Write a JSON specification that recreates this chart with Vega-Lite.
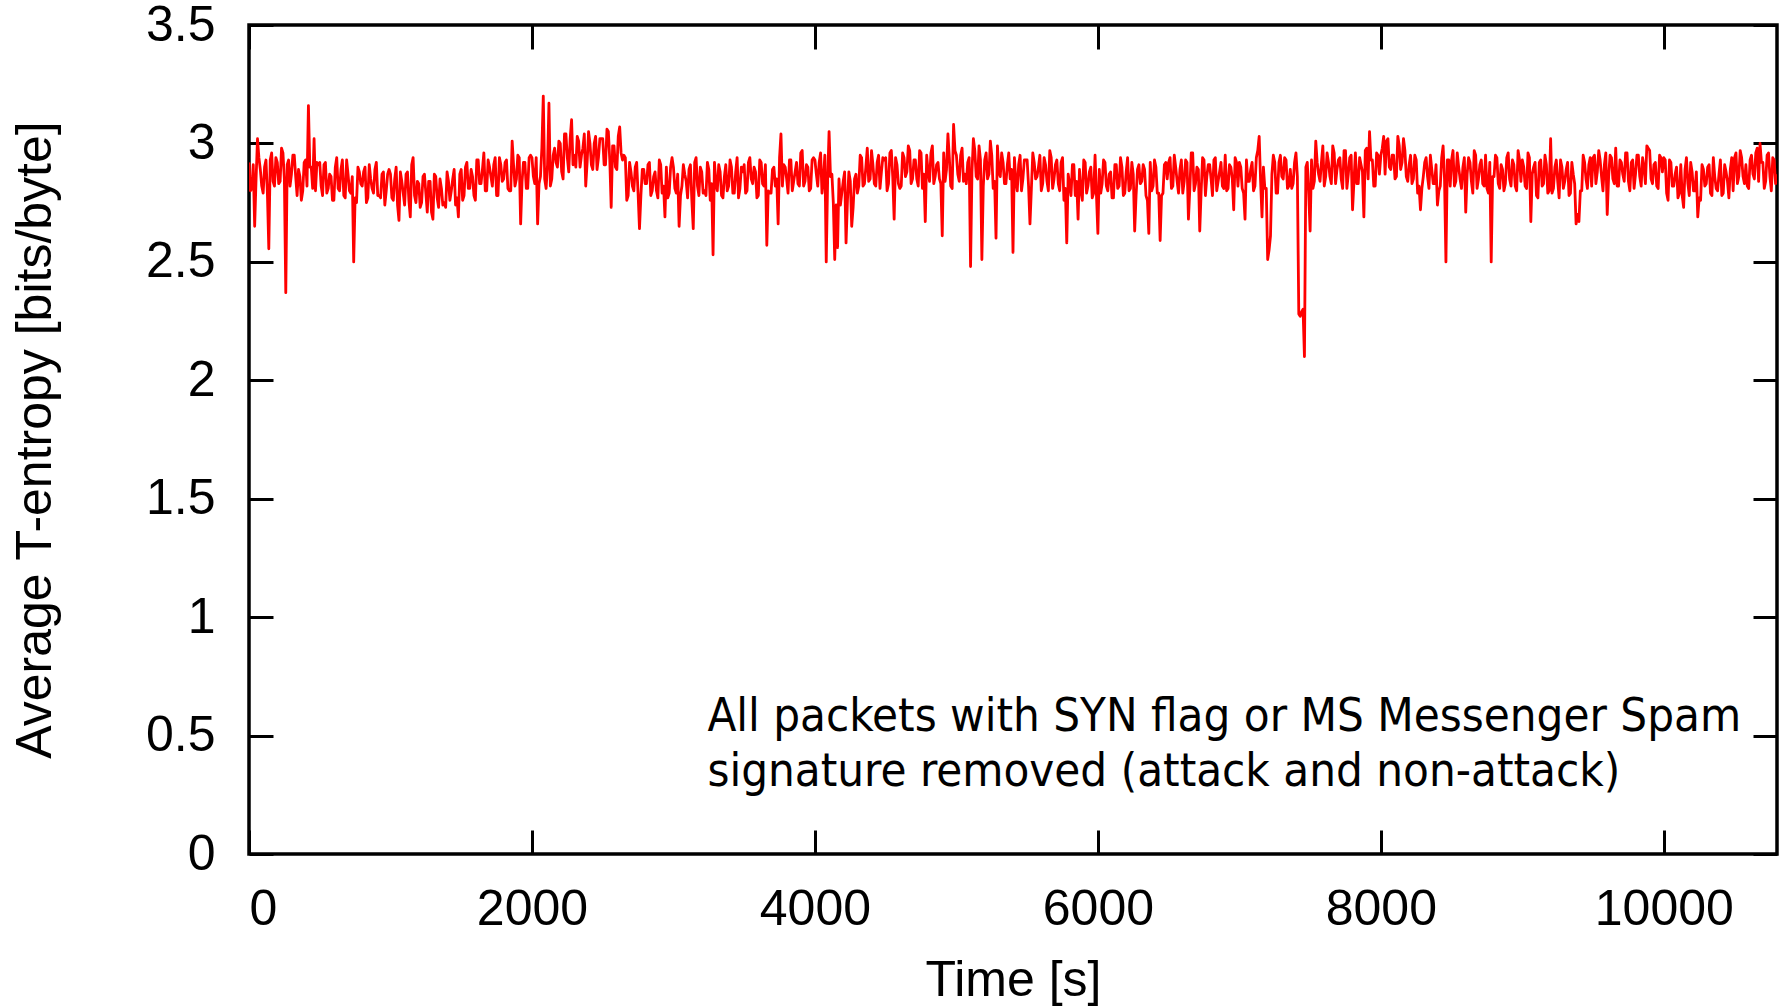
{
"$schema": "https://vega.github.io/schema/vega-lite/v6.json",
"width": 1528,
"height": 829,
"autosize": {"type": "none"},
"padding": {"left": 249, "top": 25, "right": 11, "bottom": 154},
"background": "white",
"config": {
  "view": {"stroke": "black", "strokeWidth": 3.5},
  "axis": {"grid": false, "domain": false, "tickColor": "black", "tickWidth": 3, "tickSize": -24, "labelFont": "Liberation Sans", "labelFontSize": 50, "labelColor": "black", "titleFont": "Liberation Sans", "titleFontSize": 50, "titleFontWeight": "normal", "titleColor": "black"}
},
"data": {"values": [
{"t":0,"v":2.92},{"t":10,"v":2.80},{"t":20,"v":2.81},{"t":30,"v":2.91},{"t":40,"v":2.65},{"t":50,"v":2.85},{"t":60,"v":3.02},{"t":70,"v":2.94},{"t":80,"v":2.89},{"t":90,"v":2.82},{"t":100,"v":2.79},{"t":110,"v":2.90},{"t":120,"v":2.93},{"t":130,"v":2.79},{"t":140,"v":2.555},{"t":150,"v":2.93},{"t":160,"v":2.96},{"t":170,"v":2.84},{"t":180,"v":2.82},{"t":190,"v":2.94},
{"t":200,"v":2.92},{"t":210,"v":2.83},{"t":220,"v":2.84},{"t":230,"v":2.98},{"t":240,"v":2.96},{"t":250,"v":2.85},{"t":260,"v":2.37},{"t":270,"v":2.91},{"t":280,"v":2.93},{"t":290,"v":2.82},{"t":300,"v":2.87},{"t":310,"v":2.95},{"t":320,"v":2.95},{"t":330,"v":2.86},{"t":340,"v":2.78},{"t":350,"v":2.89},{"t":360,"v":2.86},{"t":370,"v":2.76},{"t":380,"v":2.80},{"t":390,"v":2.92},
{"t":400,"v":2.93},{"t":410,"v":2.82},{"t":420,"v":3.16},{"t":430,"v":2.90},{"t":440,"v":2.90},{"t":450,"v":2.81},{"t":460,"v":3.02},{"t":470,"v":2.80},{"t":480,"v":2.92},{"t":490,"v":2.91},{"t":500,"v":2.92},{"t":510,"v":2.82},{"t":520,"v":2.78},{"t":530,"v":2.91},{"t":540,"v":2.92},{"t":550,"v":2.79},{"t":560,"v":2.81},{"t":570,"v":2.87},{"t":580,"v":2.86},{"t":590,"v":2.76},
{"t":600,"v":2.76},{"t":610,"v":2.90},{"t":620,"v":2.94},{"t":630,"v":2.81},{"t":640,"v":2.80},{"t":650,"v":2.89},{"t":660,"v":2.93},{"t":670,"v":2.78},{"t":680,"v":2.77},{"t":690,"v":2.93},{"t":700,"v":2.87},{"t":710,"v":2.80},{"t":720,"v":2.79},{"t":730,"v":2.86},{"t":740,"v":2.50},{"t":750,"v":2.77},{"t":760,"v":2.75},{"t":770,"v":2.90},{"t":780,"v":2.88},{"t":790,"v":2.83},
{"t":800,"v":2.82},{"t":810,"v":2.88},{"t":820,"v":2.90},{"t":830,"v":2.75},{"t":840,"v":2.77},{"t":850,"v":2.91},{"t":860,"v":2.85},{"t":870,"v":2.81},{"t":880,"v":2.79},{"t":890,"v":2.89},{"t":900,"v":2.92},{"t":910,"v":2.78},{"t":920,"v":2.78},{"t":930,"v":2.77},{"t":940,"v":2.87},{"t":950,"v":2.88},{"t":960,"v":2.74},{"t":970,"v":2.80},{"t":980,"v":2.87},{"t":990,"v":2.89},
{"t":1000,"v":2.87},{"t":1010,"v":2.77},{"t":1020,"v":2.76},{"t":1030,"v":2.85},{"t":1040,"v":2.90},{"t":1050,"v":2.74},{"t":1060,"v":2.675},{"t":1070,"v":2.88},{"t":1080,"v":2.84},{"t":1090,"v":2.79},{"t":1100,"v":2.74},{"t":1110,"v":2.87},{"t":1120,"v":2.88},{"t":1130,"v":2.76},{"t":1140,"v":2.69},{"t":1150,"v":2.91},{"t":1160,"v":2.94},{"t":1170,"v":2.78},{"t":1180,"v":2.75},{"t":1190,"v":2.84},
{"t":1200,"v":2.83},{"t":1210,"v":2.73},{"t":1220,"v":2.75},{"t":1230,"v":2.86},{"t":1240,"v":2.87},{"t":1250,"v":2.79},{"t":1260,"v":2.71},{"t":1270,"v":2.84},{"t":1280,"v":2.84},{"t":1290,"v":2.71},{"t":1300,"v":2.68},{"t":1310,"v":2.87},{"t":1320,"v":2.86},{"t":1330,"v":2.77},{"t":1340,"v":2.73},{"t":1350,"v":2.85},{"t":1360,"v":2.81},{"t":1370,"v":2.74},{"t":1380,"v":2.75},{"t":1390,"v":2.73},
{"t":1400,"v":2.88},{"t":1410,"v":2.84},{"t":1420,"v":2.76},{"t":1430,"v":2.80},{"t":1440,"v":2.85},{"t":1450,"v":2.89},{"t":1460,"v":2.74},{"t":1470,"v":2.77},{"t":1480,"v":2.69},{"t":1490,"v":2.87},{"t":1500,"v":2.89},{"t":1510,"v":2.76},{"t":1520,"v":2.78},{"t":1530,"v":2.90},{"t":1540,"v":2.92},{"t":1550,"v":2.81},{"t":1560,"v":2.81},{"t":1570,"v":2.89},{"t":1580,"v":2.86},{"t":1590,"v":2.78},
{"t":1600,"v":2.76},{"t":1610,"v":2.93},{"t":1620,"v":2.93},{"t":1630,"v":2.83},{"t":1640,"v":2.83},{"t":1650,"v":2.89},{"t":1660,"v":2.96},{"t":1670,"v":2.80},{"t":1680,"v":2.80},{"t":1690,"v":2.93},{"t":1700,"v":2.90},{"t":1710,"v":2.86},{"t":1720,"v":2.82},{"t":1730,"v":2.91},{"t":1740,"v":2.94},{"t":1750,"v":2.78},{"t":1760,"v":2.78},{"t":1770,"v":2.94},{"t":1780,"v":2.91},{"t":1790,"v":2.84},
{"t":1800,"v":2.85},{"t":1810,"v":2.92},{"t":1820,"v":2.93},{"t":1830,"v":2.81},{"t":1840,"v":2.80},{"t":1850,"v":2.80},{"t":1860,"v":3.01},{"t":1870,"v":2.91},{"t":1880,"v":2.82},{"t":1890,"v":2.85},{"t":1900,"v":2.95},{"t":1910,"v":2.94},{"t":1920,"v":2.66},{"t":1930,"v":2.84},{"t":1940,"v":2.92},{"t":1950,"v":2.92},{"t":1960,"v":2.81},{"t":1970,"v":2.81},{"t":1980,"v":2.94},{"t":1990,"v":2.95},
{"t":2000,"v":2.94},{"t":2010,"v":2.86},{"t":2020,"v":2.83},{"t":2030,"v":2.94},{"t":2040,"v":2.66},{"t":2050,"v":2.83},{"t":2060,"v":2.86},{"t":2070,"v":2.98},{"t":2080,"v":3.20},{"t":2090,"v":2.85},{"t":2100,"v":2.81},{"t":2110,"v":2.91},{"t":2120,"v":3.17},{"t":2130,"v":2.82},{"t":2140,"v":2.85},{"t":2150,"v":2.95},{"t":2160,"v":2.98},{"t":2170,"v":2.92},{"t":2180,"v":2.90},{"t":2190,"v":3.01},
{"t":2200,"v":3.00},{"t":2210,"v":2.88},{"t":2220,"v":2.85},{"t":2230,"v":3.04},{"t":2240,"v":3.04},{"t":2250,"v":2.94},{"t":2260,"v":2.88},{"t":2270,"v":3.02},{"t":2280,"v":3.10},{"t":2290,"v":2.91},{"t":2300,"v":2.95},{"t":2310,"v":2.90},{"t":2320,"v":3.03},{"t":2330,"v":3.01},{"t":2340,"v":2.90},{"t":2350,"v":2.95},{"t":2360,"v":2.98},{"t":2370,"v":3.04},{"t":2380,"v":2.82},{"t":2390,"v":2.92},
{"t":2400,"v":3.05},{"t":2410,"v":3.00},{"t":2420,"v":2.91},{"t":2430,"v":2.89},{"t":2440,"v":3.00},{"t":2450,"v":3.03},{"t":2460,"v":2.89},{"t":2470,"v":2.94},{"t":2480,"v":3.02},{"t":2490,"v":3.02},{"t":2500,"v":3.02},{"t":2510,"v":2.91},{"t":2520,"v":2.91},{"t":2530,"v":3.06},{"t":2540,"v":3.05},{"t":2550,"v":2.93},{"t":2560,"v":2.73},{"t":2570,"v":2.99},{"t":2580,"v":2.99},{"t":2590,"v":2.90},
{"t":2600,"v":2.89},{"t":2610,"v":3.03},{"t":2620,"v":3.07},{"t":2630,"v":2.96},{"t":2640,"v":2.93},{"t":2650,"v":2.95},{"t":2660,"v":2.94},{"t":2670,"v":2.76},{"t":2680,"v":2.78},{"t":2690,"v":2.92},{"t":2700,"v":2.88},{"t":2710,"v":2.82},{"t":2720,"v":2.80},{"t":2730,"v":2.90},{"t":2740,"v":2.92},{"t":2750,"v":2.79},{"t":2760,"v":2.64},{"t":2770,"v":2.78},{"t":2780,"v":2.89},{"t":2790,"v":2.89},
{"t":2800,"v":2.83},{"t":2810,"v":2.83},{"t":2820,"v":2.91},{"t":2830,"v":2.92},{"t":2840,"v":2.78},{"t":2850,"v":2.80},{"t":2860,"v":2.86},{"t":2870,"v":2.88},{"t":2880,"v":2.80},{"t":2890,"v":2.77},{"t":2900,"v":2.93},{"t":2910,"v":2.91},{"t":2920,"v":2.79},{"t":2930,"v":2.82},{"t":2940,"v":2.69},{"t":2950,"v":2.90},{"t":2960,"v":2.77},{"t":2970,"v":2.79},{"t":2980,"v":2.90},{"t":2990,"v":2.94},
{"t":3000,"v":2.90},{"t":3010,"v":2.81},{"t":3020,"v":2.79},{"t":3030,"v":2.87},{"t":3040,"v":2.65},{"t":3050,"v":2.78},{"t":3060,"v":2.82},{"t":3070,"v":2.91},{"t":3080,"v":2.87},{"t":3090,"v":2.84},{"t":3100,"v":2.77},{"t":3110,"v":2.89},{"t":3120,"v":2.91},{"t":3130,"v":2.76},{"t":3140,"v":2.64},{"t":3150,"v":2.92},{"t":3160,"v":2.94},{"t":3170,"v":2.82},{"t":3180,"v":2.78},{"t":3190,"v":2.90},
{"t":3200,"v":2.88},{"t":3210,"v":2.79},{"t":3220,"v":2.80},{"t":3230,"v":2.78},{"t":3240,"v":2.92},{"t":3250,"v":2.89},{"t":3260,"v":2.76},{"t":3270,"v":2.83},{"t":3280,"v":2.53},{"t":3290,"v":2.92},{"t":3300,"v":2.83},{"t":3310,"v":2.80},{"t":3320,"v":2.91},{"t":3330,"v":2.88},{"t":3340,"v":2.78},{"t":3350,"v":2.77},{"t":3360,"v":2.86},{"t":3370,"v":2.91},{"t":3380,"v":2.80},{"t":3390,"v":2.82},
{"t":3400,"v":2.93},{"t":3410,"v":2.90},{"t":3420,"v":2.79},{"t":3430,"v":2.79},{"t":3440,"v":2.88},{"t":3450,"v":2.94},{"t":3460,"v":2.77},{"t":3470,"v":2.81},{"t":3480,"v":2.90},{"t":3490,"v":2.88},{"t":3500,"v":2.91},{"t":3510,"v":2.79},{"t":3520,"v":2.80},{"t":3530,"v":2.92},{"t":3540,"v":2.94},{"t":3550,"v":2.85},{"t":3560,"v":2.83},{"t":3570,"v":2.90},{"t":3580,"v":2.88},{"t":3590,"v":2.77},
{"t":3600,"v":2.78},{"t":3610,"v":2.93},{"t":3620,"v":2.92},{"t":3630,"v":2.83},{"t":3640,"v":2.82},{"t":3650,"v":2.91},{"t":3660,"v":2.57},{"t":3670,"v":2.80},{"t":3680,"v":2.79},{"t":3690,"v":2.79},{"t":3700,"v":2.89},{"t":3710,"v":2.90},{"t":3720,"v":2.82},{"t":3730,"v":2.85},{"t":3740,"v":2.66},{"t":3750,"v":2.94},{"t":3760,"v":3.04},{"t":3770,"v":2.82},{"t":3780,"v":2.91},{"t":3790,"v":2.90},
{"t":3800,"v":2.85},{"t":3810,"v":2.79},{"t":3820,"v":2.93},{"t":3830,"v":2.93},{"t":3840,"v":2.80},{"t":3850,"v":2.84},{"t":3860,"v":2.88},{"t":3870,"v":2.92},{"t":3880,"v":2.83},{"t":3890,"v":2.82},{"t":3900,"v":2.96},{"t":3910,"v":2.97},{"t":3920,"v":2.82},{"t":3930,"v":2.84},{"t":3940,"v":2.91},{"t":3950,"v":2.90},{"t":3960,"v":2.80},{"t":3970,"v":2.81},{"t":3980,"v":2.93},{"t":3990,"v":2.94},
{"t":4000,"v":2.93},{"t":4010,"v":2.87},{"t":4020,"v":2.82},{"t":4030,"v":2.92},{"t":4040,"v":2.96},{"t":4050,"v":2.79},{"t":4060,"v":2.85},{"t":4070,"v":2.95},{"t":4080,"v":2.50},{"t":4090,"v":2.85},{"t":4100,"v":3.05},{"t":4110,"v":2.86},{"t":4120,"v":2.87},{"t":4130,"v":2.75},{"t":4140,"v":2.51},{"t":4150,"v":2.74},{"t":4160,"v":2.56},{"t":4170,"v":2.85},{"t":4180,"v":2.74},{"t":4190,"v":2.79},
{"t":4200,"v":2.84},{"t":4210,"v":2.88},{"t":4220,"v":2.58},{"t":4230,"v":2.76},{"t":4240,"v":2.88},{"t":4250,"v":2.84},{"t":4260,"v":2.65},{"t":4270,"v":2.73},{"t":4280,"v":2.85},{"t":4290,"v":2.87},{"t":4300,"v":2.79},{"t":4310,"v":2.82},{"t":4320,"v":2.95},{"t":4330,"v":2.94},{"t":4340,"v":2.82},{"t":4350,"v":2.83},{"t":4360,"v":2.90},{"t":4370,"v":2.98},{"t":4380,"v":2.84},{"t":4390,"v":2.85},
{"t":4400,"v":2.97},{"t":4410,"v":2.91},{"t":4420,"v":2.83},{"t":4430,"v":2.82},{"t":4440,"v":2.92},{"t":4450,"v":2.95},{"t":4460,"v":2.81},{"t":4470,"v":2.88},{"t":4480,"v":2.94},{"t":4490,"v":2.93},{"t":4500,"v":2.94},{"t":4510,"v":2.80},{"t":4520,"v":2.83},{"t":4530,"v":2.96},{"t":4540,"v":2.97},{"t":4550,"v":2.86},{"t":4560,"v":2.68},{"t":4570,"v":2.94},{"t":4580,"v":2.91},{"t":4590,"v":2.83},
{"t":4600,"v":2.81},{"t":4610,"v":2.82},{"t":4620,"v":2.96},{"t":4630,"v":2.94},{"t":4640,"v":2.86},{"t":4650,"v":2.88},{"t":4660,"v":2.99},{"t":4670,"v":2.97},{"t":4680,"v":2.83},{"t":4690,"v":2.85},{"t":4700,"v":2.93},{"t":4710,"v":2.93},{"t":4720,"v":2.85},{"t":4730,"v":2.82},{"t":4740,"v":2.97},{"t":4750,"v":2.96},{"t":4760,"v":2.81},{"t":4770,"v":2.87},{"t":4780,"v":2.67},{"t":4790,"v":2.95},
{"t":4800,"v":2.88},{"t":4810,"v":2.84},{"t":4820,"v":2.96},{"t":4830,"v":2.99},{"t":4840,"v":2.83},{"t":4850,"v":2.86},{"t":4860,"v":2.91},{"t":4870,"v":2.92},{"t":4880,"v":2.85},{"t":4890,"v":2.83},{"t":4900,"v":2.61},{"t":4910,"v":2.96},{"t":4920,"v":2.84},{"t":4930,"v":2.89},{"t":4940,"v":3.04},{"t":4950,"v":2.94},{"t":4960,"v":2.82},{"t":4970,"v":2.81},{"t":4980,"v":3.08},{"t":4990,"v":2.97},
{"t":5000,"v":2.95},{"t":5010,"v":2.87},{"t":5020,"v":2.84},{"t":5030,"v":2.95},{"t":5040,"v":2.98},{"t":5050,"v":2.84},{"t":5060,"v":2.87},{"t":5070,"v":2.83},{"t":5080,"v":2.92},{"t":5090,"v":2.94},{"t":5100,"v":2.48},{"t":5110,"v":2.88},{"t":5120,"v":3.02},{"t":5130,"v":2.97},{"t":5140,"v":2.86},{"t":5150,"v":2.85},{"t":5160,"v":2.99},{"t":5170,"v":2.93},{"t":5180,"v":2.51},{"t":5190,"v":2.82},
{"t":5200,"v":2.93},{"t":5210,"v":2.96},{"t":5220,"v":2.85},{"t":5230,"v":2.87},{"t":5240,"v":3.01},{"t":5250,"v":2.95},{"t":5260,"v":2.81},{"t":5270,"v":2.84},{"t":5280,"v":2.60},{"t":5290,"v":2.99},{"t":5300,"v":2.88},{"t":5310,"v":2.86},{"t":5320,"v":2.96},{"t":5330,"v":2.92},{"t":5340,"v":2.83},{"t":5350,"v":2.83},{"t":5360,"v":2.91},{"t":5370,"v":2.96},{"t":5380,"v":2.85},{"t":5390,"v":2.89},
{"t":5400,"v":2.54},{"t":5410,"v":2.94},{"t":5420,"v":2.84},{"t":5430,"v":2.80},{"t":5440,"v":2.91},{"t":5450,"v":2.95},{"t":5460,"v":2.80},{"t":5470,"v":2.85},{"t":5480,"v":2.93},{"t":5490,"v":2.93},{"t":5500,"v":2.93},{"t":5510,"v":2.82},{"t":5520,"v":2.66},{"t":5530,"v":2.81},{"t":5540,"v":2.96},{"t":5550,"v":2.92},{"t":5560,"v":2.85},{"t":5570,"v":2.86},{"t":5580,"v":2.90},{"t":5590,"v":2.95},
{"t":5600,"v":2.80},{"t":5610,"v":2.83},{"t":5620,"v":2.94},{"t":5630,"v":2.91},{"t":5640,"v":2.84},{"t":5650,"v":2.80},{"t":5660,"v":2.97},{"t":5670,"v":2.94},{"t":5680,"v":2.81},{"t":5690,"v":2.85},{"t":5700,"v":2.91},{"t":5710,"v":2.93},{"t":5720,"v":2.83},{"t":5730,"v":2.80},{"t":5740,"v":2.92},{"t":5750,"v":2.94},{"t":5760,"v":2.76},{"t":5770,"v":2.81},{"t":5780,"v":2.58},{"t":5790,"v":2.87},
{"t":5800,"v":2.83},{"t":5810,"v":2.78},{"t":5820,"v":2.91},{"t":5830,"v":2.91},{"t":5840,"v":2.78},{"t":5850,"v":2.84},{"t":5860,"v":2.68},{"t":5870,"v":2.89},{"t":5880,"v":2.80},{"t":5890,"v":2.76},{"t":5900,"v":2.93},{"t":5910,"v":2.92},{"t":5920,"v":2.79},{"t":5930,"v":2.82},{"t":5940,"v":2.88},{"t":5950,"v":2.90},{"t":5960,"v":2.77},{"t":5970,"v":2.79},{"t":5980,"v":2.95},{"t":5990,"v":2.78},
{"t":6000,"v":2.62},{"t":6010,"v":2.89},{"t":6020,"v":2.79},{"t":6030,"v":2.83},{"t":6040,"v":2.93},{"t":6050,"v":2.92},{"t":6060,"v":2.82},{"t":6070,"v":2.80},{"t":6080,"v":2.87},{"t":6090,"v":2.88},{"t":6100,"v":2.77},{"t":6110,"v":2.77},{"t":6120,"v":2.91},{"t":6130,"v":2.91},{"t":6140,"v":2.81},{"t":6150,"v":2.82},{"t":6160,"v":2.94},{"t":6170,"v":2.90},{"t":6180,"v":2.78},{"t":6190,"v":2.79},
{"t":6200,"v":2.88},{"t":6210,"v":2.94},{"t":6220,"v":2.80},{"t":6230,"v":2.81},{"t":6240,"v":2.92},{"t":6250,"v":2.87},{"t":6260,"v":2.63},{"t":6270,"v":2.78},{"t":6280,"v":2.89},{"t":6290,"v":2.91},{"t":6300,"v":2.83},{"t":6310,"v":2.84},{"t":6320,"v":2.91},{"t":6330,"v":2.89},{"t":6340,"v":2.78},{"t":6350,"v":2.76},{"t":6360,"v":2.62},{"t":6370,"v":2.92},{"t":6380,"v":2.80},{"t":6390,"v":2.82},
{"t":6400,"v":2.93},{"t":6410,"v":2.90},{"t":6420,"v":2.79},{"t":6430,"v":2.79},{"t":6440,"v":2.59},{"t":6450,"v":2.78},{"t":6460,"v":2.79},{"t":6470,"v":2.91},{"t":6480,"v":2.92},{"t":6490,"v":2.85},{"t":6500,"v":2.92},{"t":6510,"v":2.94},{"t":6520,"v":2.81},{"t":6530,"v":2.82},{"t":6540,"v":2.95},{"t":6550,"v":2.90},{"t":6560,"v":2.84},{"t":6570,"v":2.79},{"t":6580,"v":2.89},{"t":6590,"v":2.93},
{"t":6600,"v":2.79},{"t":6610,"v":2.84},{"t":6620,"v":2.93},{"t":6630,"v":2.92},{"t":6640,"v":2.68},{"t":6650,"v":2.81},{"t":6660,"v":2.96},{"t":6670,"v":2.96},{"t":6680,"v":2.80},{"t":6690,"v":2.83},{"t":6700,"v":2.90},{"t":6710,"v":2.89},{"t":6720,"v":2.63},{"t":6730,"v":2.80},{"t":6740,"v":2.94},{"t":6750,"v":2.93},{"t":6760,"v":2.78},{"t":6770,"v":2.86},{"t":6780,"v":2.91},{"t":6790,"v":2.91},
{"t":6800,"v":2.85},{"t":6810,"v":2.78},{"t":6820,"v":2.93},{"t":6830,"v":2.94},{"t":6840,"v":2.80},{"t":6850,"v":2.84},{"t":6860,"v":2.88},{"t":6870,"v":2.92},{"t":6880,"v":2.82},{"t":6890,"v":2.81},{"t":6900,"v":2.95},{"t":6910,"v":2.80},{"t":6920,"v":2.81},{"t":6930,"v":2.91},{"t":6940,"v":2.90},{"t":6950,"v":2.85},{"t":6960,"v":2.72},{"t":6970,"v":2.94},{"t":6980,"v":2.92},{"t":6990,"v":2.82},
{"t":7000,"v":2.92},{"t":7010,"v":2.90},{"t":7020,"v":2.81},{"t":7030,"v":2.79},{"t":7040,"v":2.68},{"t":7050,"v":2.93},{"t":7060,"v":2.84},{"t":7070,"v":2.84},{"t":7080,"v":2.89},{"t":7090,"v":2.92},{"t":7100,"v":2.80},{"t":7110,"v":2.82},{"t":7120,"v":2.94},{"t":7130,"v":2.97},{"t":7140,"v":3.03},{"t":7150,"v":2.84},{"t":7160,"v":2.69},{"t":7170,"v":2.90},{"t":7180,"v":2.81},{"t":7190,"v":2.81},
{"t":7200,"v":2.51},{"t":7210,"v":2.55},{"t":7220,"v":2.61},{"t":7230,"v":2.87},{"t":7240,"v":2.95},{"t":7250,"v":2.92},{"t":7260,"v":2.79},{"t":7270,"v":2.79},{"t":7280,"v":2.92},{"t":7290,"v":2.95},{"t":7300,"v":2.86},{"t":7310,"v":2.85},{"t":7320,"v":2.94},{"t":7330,"v":2.93},{"t":7340,"v":2.81},{"t":7350,"v":2.82},{"t":7360,"v":2.89},{"t":7370,"v":2.81},{"t":7380,"v":2.83},{"t":7390,"v":2.92},
{"t":7400,"v":2.96},{"t":7410,"v":2.86},{"t":7420,"v":2.28},{"t":7430,"v":2.27},{"t":7440,"v":2.29},{"t":7450,"v":2.30},{"t":7460,"v":2.10},{"t":7470,"v":2.90},{"t":7480,"v":2.92},{"t":7490,"v":2.79},{"t":7500,"v":2.63},{"t":7510,"v":2.93},{"t":7520,"v":2.81},{"t":7530,"v":2.84},{"t":7540,"v":3.01},{"t":7550,"v":2.92},{"t":7560,"v":2.87},{"t":7570,"v":2.84},{"t":7580,"v":2.92},{"t":7590,"v":2.99},
{"t":7600,"v":2.82},{"t":7610,"v":2.86},{"t":7620,"v":2.96},{"t":7630,"v":2.92},{"t":7640,"v":2.86},{"t":7650,"v":2.83},{"t":7660,"v":2.99},{"t":7670,"v":2.96},{"t":7680,"v":2.83},{"t":7690,"v":2.89},{"t":7700,"v":2.93},{"t":7710,"v":2.94},{"t":7720,"v":2.85},{"t":7730,"v":2.81},{"t":7740,"v":2.97},{"t":7750,"v":2.97},{"t":7760,"v":2.81},{"t":7770,"v":2.87},{"t":7780,"v":2.94},{"t":7790,"v":2.95},
{"t":7800,"v":2.72},{"t":7810,"v":2.84},{"t":7820,"v":2.96},{"t":7830,"v":2.83},{"t":7840,"v":2.83},{"t":7850,"v":2.94},{"t":7860,"v":2.91},{"t":7870,"v":2.88},{"t":7880,"v":2.69},{"t":7890,"v":2.97},{"t":7900,"v":2.98},{"t":7910,"v":2.85},{"t":7920,"v":3.05},{"t":7930,"v":2.93},{"t":7940,"v":2.93},{"t":7950,"v":2.82},{"t":7960,"v":2.82},{"t":7970,"v":2.96},{"t":7980,"v":2.95},{"t":7990,"v":2.87},
{"t":8000,"v":2.95},{"t":8010,"v":2.98},{"t":8020,"v":3.03},{"t":8030,"v":2.87},{"t":8040,"v":3.01},{"t":8050,"v":3.02},{"t":8060,"v":2.90},{"t":8070,"v":2.89},{"t":8080,"v":2.95},{"t":8090,"v":2.95},{"t":8100,"v":2.85},{"t":8110,"v":2.86},{"t":8120,"v":3.03},{"t":8130,"v":2.99},{"t":8140,"v":2.89},{"t":8150,"v":2.92},{"t":8160,"v":3.02},{"t":8170,"v":2.97},{"t":8180,"v":2.86},{"t":8190,"v":2.84},
{"t":8200,"v":2.91},{"t":8210,"v":2.95},{"t":8220,"v":2.83},{"t":8230,"v":2.85},{"t":8240,"v":2.95},{"t":8250,"v":2.93},{"t":8260,"v":2.79},{"t":8270,"v":2.82},{"t":8280,"v":2.72},{"t":8290,"v":2.81},{"t":8300,"v":2.86},{"t":8310,"v":2.92},{"t":8320,"v":2.94},{"t":8330,"v":2.86},{"t":8340,"v":2.81},{"t":8350,"v":2.95},{"t":8360,"v":2.89},{"t":8370,"v":2.83},{"t":8380,"v":2.83},{"t":8390,"v":2.91},
{"t":8400,"v":2.74},{"t":8410,"v":2.80},{"t":8420,"v":2.82},{"t":8430,"v":2.94},{"t":8440,"v":2.99},{"t":8450,"v":2.85},{"t":8460,"v":2.50},{"t":8470,"v":2.93},{"t":8480,"v":2.93},{"t":8490,"v":2.82},{"t":8500,"v":2.93},{"t":8510,"v":2.97},{"t":8520,"v":2.82},{"t":8530,"v":2.84},{"t":8540,"v":2.96},{"t":8550,"v":2.90},{"t":8560,"v":2.85},{"t":8570,"v":2.81},{"t":8580,"v":2.90},{"t":8590,"v":2.94},
{"t":8600,"v":2.71},{"t":8610,"v":2.87},{"t":8620,"v":2.94},{"t":8630,"v":2.92},{"t":8640,"v":2.84},{"t":8650,"v":2.79},{"t":8660,"v":2.97},{"t":8670,"v":2.95},{"t":8680,"v":2.81},{"t":8690,"v":2.85},{"t":8700,"v":2.91},{"t":8710,"v":2.93},{"t":8720,"v":2.83},{"t":8730,"v":2.82},{"t":8740,"v":2.95},{"t":8750,"v":2.81},{"t":8760,"v":2.79},{"t":8770,"v":2.92},{"t":8780,"v":2.50},{"t":8790,"v":2.86},
{"t":8800,"v":2.86},{"t":8810,"v":2.95},{"t":8820,"v":2.94},{"t":8830,"v":2.83},{"t":8840,"v":2.81},{"t":8850,"v":2.91},{"t":8860,"v":2.89},{"t":8870,"v":2.80},{"t":8880,"v":2.83},{"t":8890,"v":2.94},{"t":8900,"v":2.96},{"t":8910,"v":2.85},{"t":8920,"v":2.82},{"t":8930,"v":2.93},{"t":8940,"v":2.91},{"t":8950,"v":2.82},{"t":8960,"v":2.80},{"t":8970,"v":2.97},{"t":8980,"v":2.93},{"t":8990,"v":2.84},
{"t":9000,"v":2.93},{"t":9010,"v":2.90},{"t":9020,"v":2.82},{"t":9030,"v":2.81},{"t":9040,"v":2.96},{"t":9050,"v":2.94},{"t":9060,"v":2.67},{"t":9070,"v":2.87},{"t":9080,"v":2.90},{"t":9090,"v":2.92},{"t":9100,"v":2.78},{"t":9110,"v":2.77},{"t":9120,"v":2.92},{"t":9130,"v":2.93},{"t":9140,"v":2.82},{"t":9150,"v":2.83},{"t":9160,"v":2.95},{"t":9170,"v":2.91},{"t":9180,"v":2.79},{"t":9190,"v":2.80},
{"t":9200,"v":3.02},{"t":9210,"v":2.79},{"t":9220,"v":2.81},{"t":9230,"v":2.90},{"t":9240,"v":2.93},{"t":9250,"v":2.84},{"t":9260,"v":2.77},{"t":9270,"v":2.93},{"t":9280,"v":2.90},{"t":9290,"v":2.81},{"t":9300,"v":2.84},{"t":9310,"v":2.89},{"t":9320,"v":2.92},{"t":9330,"v":2.78},{"t":9340,"v":2.79},{"t":9350,"v":2.92},{"t":9360,"v":2.87},{"t":9370,"v":2.83},{"t":9380,"v":2.66},{"t":9390,"v":2.70},
{"t":9400,"v":2.67},{"t":9410,"v":2.80},{"t":9420,"v":2.80},{"t":9430,"v":2.95},{"t":9440,"v":2.92},{"t":9450,"v":2.85},{"t":9460,"v":2.81},{"t":9470,"v":2.91},{"t":9480,"v":2.94},{"t":9490,"v":2.82},{"t":9500,"v":2.94},{"t":9510,"v":2.95},{"t":9520,"v":2.83},{"t":9530,"v":2.88},{"t":9540,"v":2.97},{"t":9550,"v":2.93},{"t":9560,"v":2.86},{"t":9570,"v":2.80},{"t":9580,"v":2.91},{"t":9590,"v":2.96},
{"t":9600,"v":2.70},{"t":9610,"v":2.86},{"t":9620,"v":2.95},{"t":9630,"v":2.94},{"t":9640,"v":2.85},{"t":9650,"v":2.83},{"t":9660,"v":2.98},{"t":9670,"v":2.82},{"t":9680,"v":2.82},{"t":9690,"v":2.93},{"t":9700,"v":2.92},{"t":9710,"v":2.87},{"t":9720,"v":2.84},{"t":9730,"v":2.96},{"t":9740,"v":2.96},{"t":9750,"v":2.84},{"t":9760,"v":2.80},{"t":9770,"v":2.92},{"t":9780,"v":2.93},{"t":9790,"v":2.81},
{"t":9800,"v":2.87},{"t":9810,"v":2.95},{"t":9820,"v":2.95},{"t":9830,"v":2.86},{"t":9840,"v":2.82},{"t":9850,"v":2.94},{"t":9860,"v":2.90},{"t":9870,"v":2.83},{"t":9880,"v":2.99},{"t":9890,"v":2.98},{"t":9900,"v":2.97},{"t":9910,"v":2.85},{"t":9920,"v":2.83},{"t":9930,"v":2.91},{"t":9940,"v":2.92},{"t":9950,"v":2.82},{"t":9960,"v":2.81},{"t":9970,"v":2.95},{"t":9980,"v":2.94},{"t":9990,"v":2.88},
{"t":10000,"v":2.94},{"t":10010,"v":2.93},{"t":10020,"v":2.79},{"t":10030,"v":2.76},{"t":10040,"v":2.93},{"t":10050,"v":2.92},{"t":10060,"v":2.82},{"t":10070,"v":2.82},{"t":10080,"v":2.87},{"t":10090,"v":2.90},{"t":10100,"v":2.77},{"t":10110,"v":2.79},{"t":10120,"v":2.91},{"t":10130,"v":2.78},{"t":10140,"v":2.73},{"t":10150,"v":2.89},{"t":10160,"v":2.94},{"t":10170,"v":2.83},{"t":10180,"v":2.78},{"t":10190,"v":2.92},
{"t":10200,"v":2.88},{"t":10210,"v":2.80},{"t":10220,"v":2.80},{"t":10230,"v":2.88},{"t":10240,"v":2.69},{"t":10250,"v":2.77},{"t":10260,"v":2.76},{"t":10270,"v":2.91},{"t":10280,"v":2.89},{"t":10290,"v":2.82},{"t":10300,"v":2.83},{"t":10310,"v":2.90},{"t":10320,"v":2.91},{"t":10330,"v":2.79},{"t":10340,"v":2.78},{"t":10350,"v":2.94},{"t":10360,"v":2.86},{"t":10370,"v":2.81},{"t":10380,"v":2.80},{"t":10390,"v":2.87},
{"t":10400,"v":2.93},{"t":10410,"v":2.78},{"t":10420,"v":2.79},{"t":10430,"v":2.91},{"t":10440,"v":2.88},{"t":10450,"v":2.84},{"t":10460,"v":2.77},{"t":10470,"v":2.89},{"t":10480,"v":2.94},{"t":10490,"v":2.80},{"t":10500,"v":2.94},{"t":10510,"v":2.96},{"t":10520,"v":2.83},{"t":10530,"v":2.86},{"t":10540,"v":2.97},{"t":10550,"v":2.94},{"t":10560,"v":2.86},{"t":10570,"v":2.83},{"t":10580,"v":2.91},{"t":10590,"v":2.82},
{"t":10600,"v":2.81},{"t":10610,"v":2.93},{"t":10620,"v":2.95},{"t":10630,"v":2.87},{"t":10640,"v":2.85},{"t":10650,"v":2.96},{"t":10660,"v":2.98},{"t":10670,"v":2.84},{"t":10680,"v":3.00},{"t":10690,"v":2.92},{"t":10700,"v":2.92},{"t":10710,"v":2.81},{"t":10720,"v":2.84},{"t":10730,"v":2.95},{"t":10740,"v":2.96},{"t":10750,"v":2.86},{"t":10760,"v":2.80},{"t":10770,"v":2.94},{"t":10780,"v":2.93},{"t":10790,"v":2.83},
{"t":10800,"v":2.87}
]},
"layer": [
  {
    "mark": {"type": "line", "color": "#ff0000", "strokeWidth": 2.8, "strokeJoin": "round", "clip": true},
    "encoding": {
      "x": {"field": "t", "type": "quantitative",
        "scale": {"domain": [0, 10800], "nice": false, "zero": false},
        "axis": {"orient": "bottom", "values": [0, 2000, 4000, 6000, 8000, 10000], "format": "d", "labelBaseline": "alphabetic", "labelPadding": 94, "title": "Time [s]", "titleBaseline": "alphabetic", "titleY": 141}},
      "y": {"field": "v", "type": "quantitative",
        "scale": {"domain": [0, 3.5], "nice": false, "zero": false},
        "axis": {"orient": "left", "values": [0, 0.5, 1, 1.5, 2, 2.5, 3, 3.5], "format": "~g", "labelBaseline": "middle", "labelPadding": 58, "title": "Average T-entropy [bits/byte]", "titleAngle": -90, "titleBaseline": "middle", "titleX": -214, "titleY": 414.5}}
    }
  },
  {
    "data": {"values": [{}]},
    "mark": {"type": "text", "text": ["All packets with SYN flag or MS Messenger Spam", "signature removed (attack and non-attack)"], "align": "left", "baseline": "alphabetic", "font": "Liberation Sans Narrow, DejaVu Sans Condensed, Liberation Sans", "fontSize": 47, "lineHeight": 55, "color": "black"},
    "encoding": {
      "x": {"datum": 3240, "type": "quantitative", "scale": {"domain": [0, 10800], "nice": false, "zero": false},
        "axis": {"orient": "top", "values": [0, 2000, 4000, 6000, 8000, 10000], "labels": false, "title": null}},
      "y": {"datum": 0.519, "type": "quantitative", "scale": {"domain": [0, 3.5], "nice": false, "zero": false},
        "axis": {"orient": "right", "values": [0, 0.5, 1, 1.5, 2, 2.5, 3, 3.5], "labels": false, "title": null}}
    }
  }
],
"resolve": {"axis": {"x": "independent", "y": "independent"}}
}
